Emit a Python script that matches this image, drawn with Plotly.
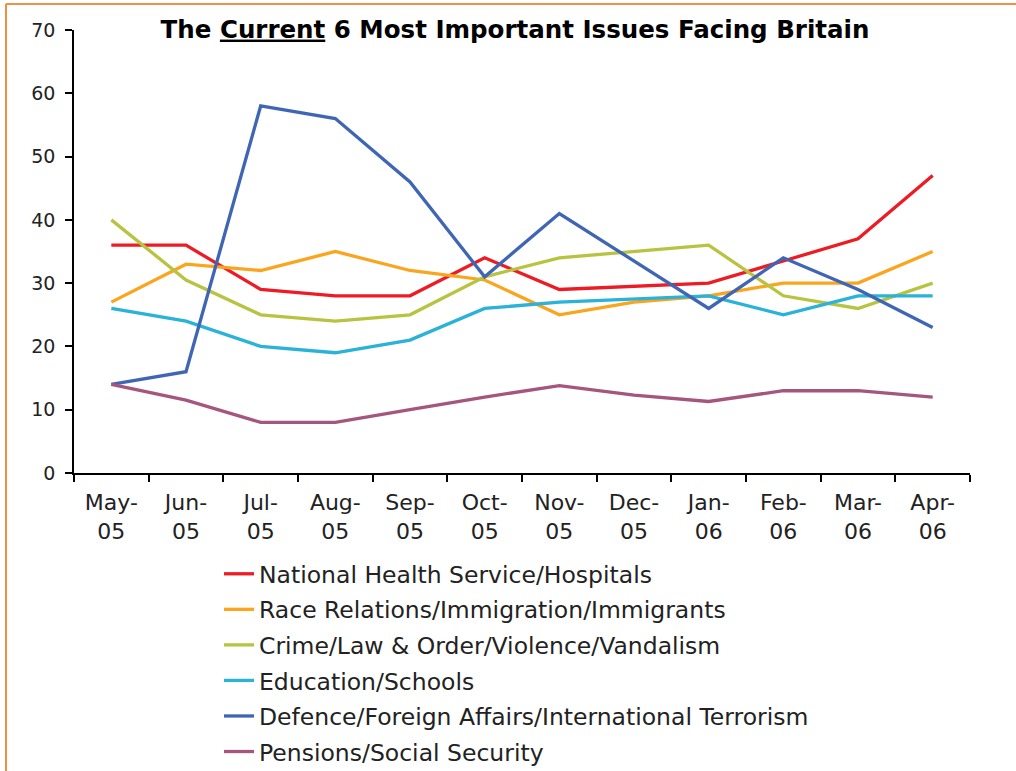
import plotly.graph_objects as go

months = ["May-<br>05", "Jun-<br>05", "Jul-<br>05", "Aug-<br>05", "Sep-<br>05", "Oct-<br>05",
          "Nov-<br>05", "Dec-<br>05", "Jan-<br>06", "Feb-<br>06", "Mar-<br>06", "Apr-<br>06"]

nhs = [36, 36, 29, 28, 28, 34, 29, 29.5, 30, 33.5, 37, 47]
race = [27, 33, 32, 35, 32, 30.5, 25, 27, 28, 30, 30, 35]
crime = [40, 30.5, 25, 24, 25, 31, 34, 35, 36, 28, 26, 30]
education = [26, 24, 20, 19, 21, 26, 27, 27.5, 28, 25, 28, 28]
defence = [14, 16, 58, 56, 46, 31, 41, 33.5, 26, 34, 29, 23]
pensions = [14, 11.5, 8, 8, 10, 12, 13.8, 12.3, 11.3, 13, 13, 12]

series = [
    ("National Health Service/Hospitals", nhs, "#ED1C24"),
    ("Race Relations/Immigration/Immigrants", race, "#FBA51E"),
    ("Crime/Law &amp; Order/Violence/Vandalism", crime, "#B8C441"),
    ("Education/Schools", education, "#2AB2D8"),
    ("Defence/Foreign Affairs/International Terrorism", defence, "#3F66B5"),
    ("Pensions/Social Security", pensions, "#A5567E"),
]

FONT = "DejaVu Sans"

fig = go.Figure()
for i, (name, vals, col) in enumerate(series):
    fig.add_trace(go.Scatter(
        x=months, y=vals, name=name, mode="lines",
        line=dict(color=col, width=3.3),
        legendgroup=f"g{i}",
    ))

L, R, T, B = 74, 970, 30, 473
W, H = 1016, 771
pw, ph = R - L, B - T

def px_x(x):
    return (x - L) / pw

def px_y(y):
    return (B - y) / ph

fig.update_layout(
    width=W, height=H,
    margin=dict(l=L, r=W - R, t=T, b=H - B, autoexpand=False),
    paper_bgcolor="white", plot_bgcolor="white",
    font=dict(family=FONT, size=20, color="#222222"),
    title=dict(
        text="<b>The <u>Current</u> 6 Most Important Issues Facing Britain</b>",
        x=px_x(515), xref="paper", xanchor="center",
        y=1 - 29 / H, yref="container", yanchor="middle",
        font=dict(family=FONT, size=24.5, color="black"),
    ),
    xaxis=dict(
        type="category", showline=True, linecolor="black", linewidth=1.5,
        ticks="outside", ticklen=7, tickcolor="black", tickwidth=1.5,
        tickson="boundaries", showgrid=False, zeroline=False,
        tickfont=dict(family=FONT, size=22, color="#222222"),
        ticklabelstandoff=9,
        range=[-0.5, 11.5],
    ),
    yaxis=dict(
        range=[0, 70], dtick=10, showline=True, linecolor="black", linewidth=1.5,
        ticks="outside", ticklen=7, tickcolor="black", tickwidth=1.5,
        showgrid=False, zeroline=False,
        tickfont=dict(family=FONT, size=19, color="#222222"),
        ticklabelstandoff=6,
    ),
    legend=dict(
        x=px_x(219), y=px_y(552), xanchor="left", yanchor="top",
        orientation="v", tracegroupgap=2,
        font=dict(family=FONT, size=23.5, color="#222222"),
        bgcolor="rgba(0,0,0,0)",
    ),
    showlegend=True,
)

# orange frame (top and left edges)
fig.add_shape(type="line", xref="paper", yref="paper",
              x0=px_x(6), x1=px_x(1016), y0=px_y(4), y1=px_y(4),
              line=dict(color="#EE9045", width=2))
fig.add_shape(type="line", xref="paper", yref="paper",
              x0=px_x(6), x1=px_x(6), y0=px_y(4), y1=px_y(771),
              line=dict(color="#EE9045", width=2))

fig.write_html("out.html", config={"displayModeBar": False},
               post_script="document.body.style.margin='0';")
